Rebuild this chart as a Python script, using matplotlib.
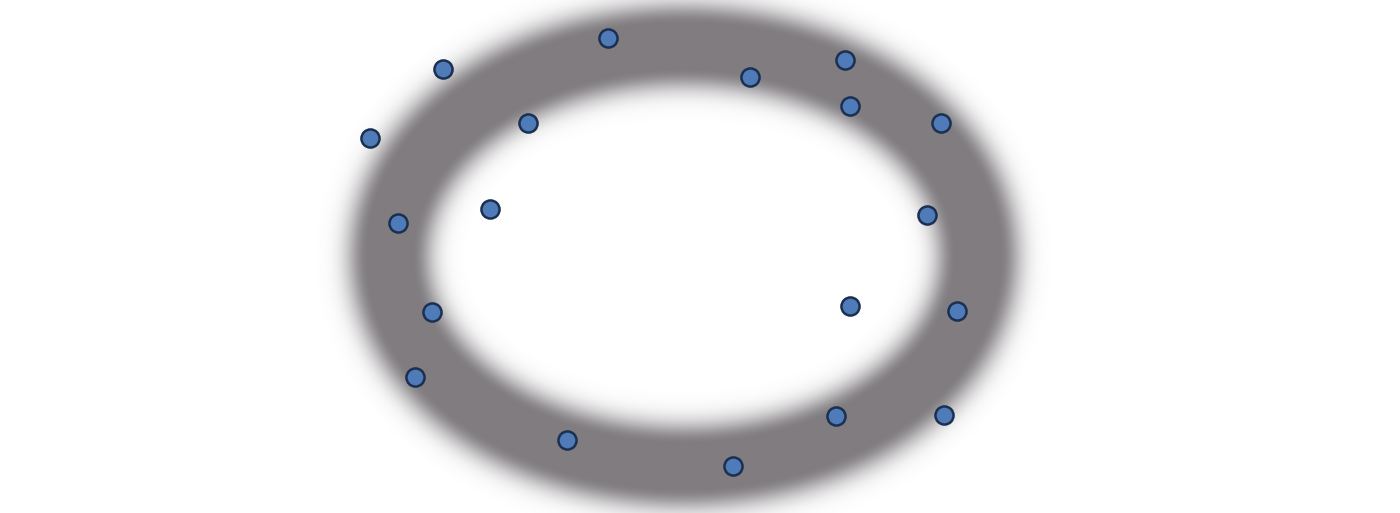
import numpy as np
import matplotlib
matplotlib.use('Agg')
import matplotlib.pyplot as plt
from matplotlib.colors import to_rgb

# points
x = [608, 443, 370, 528, 398, 490, 432, 415, 567, 733,
     836, 944, 957, 850, 927, 941, 850, 845, 750]
y = [38, 69, 138, 123, 223, 209, 312, 377, 440, 466,
     416, 415, 311, 306, 215, 123, 106, 60, 77]

# blurred ring (centre, half axes)
ring_cx, ring_cy = 684, 256
ring_a, ring_b = 294, 210

W, H = 1400, 513
fig = plt.figure(figsize=(W / 100, H / 100), dpi=100)
ax = fig.add_axes([0, 0, 1, 1])

# distance of each pixel from the ellipse, roughly in pixels
gx, gy = np.meshgrid(np.arange(W) + 0.5, np.arange(H) + 0.5)
u = (gx - ring_cx) / ring_a
v = (gy - ring_cy) / ring_b
r = np.sqrt(u**2 + v**2) + 1e-9
grad = np.sqrt(u**2 / ring_a**2 + v**2 / ring_b**2) / r
d = np.abs((r - 1) / grad)
alpha = np.exp(-(np.clip(d - 22, 0, None) / 22.0) ** 2)

img = np.ones((H, W, 4))
img[..., :3] = to_rgb('#807c80')
img[..., 3] = alpha
ax.imshow(img, extent=(0, W, H, 0), interpolation='bilinear', zorder=1)

ax.scatter(x, y, s=170, c='#4f7bb8', edgecolors='#1b3050',
           linewidths=1.8, zorder=3)

ax.set_xlim(0, W)
ax.set_ylim(H, 0)
ax.axis('off')

fig.savefig('out.png', dpi=100, facecolor='white')
